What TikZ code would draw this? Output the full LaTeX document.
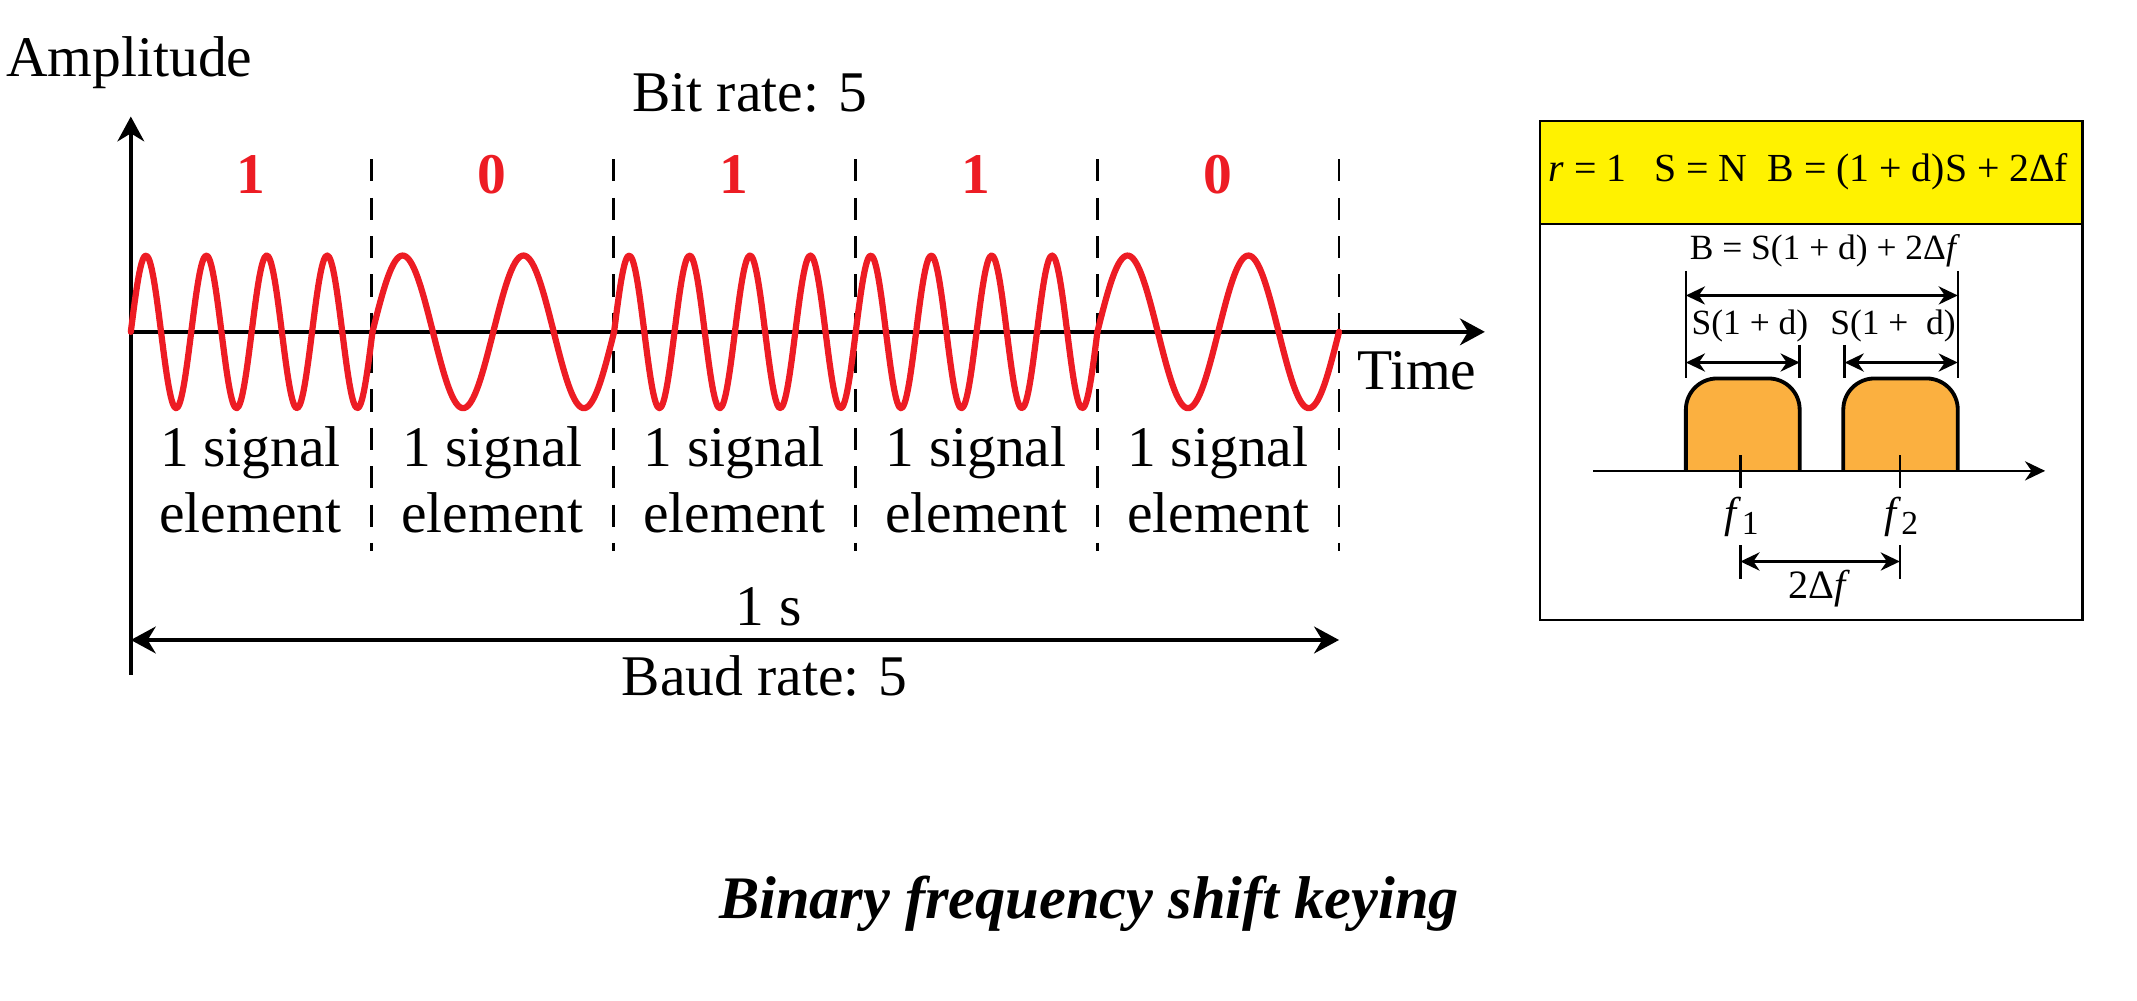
\documentclass[tikz,border=0pt]{standalone}
\usepackage{fontspec}
\setmainfont{Liberation Serif}
\usetikzlibrary{arrows.meta}
\definecolor{wavered}{RGB}{237,28,36}
\definecolor{bumporange}{RGB}{251,176,64}
\definecolor{hdryellow}{RGB}{255,242,0}
\begin{document}
\begin{tikzpicture}[x=0.01cm,y=-0.01cm,
  lbl/.style={font=\fontsize{12}{14}\selectfont, inner sep=0pt, anchor=base},
  bitlbl/.style={font=\fontsize{12}{14}\selectfont\bfseries, text=wavered, inner sep=0pt, anchor=base},
  axisline/.style={line width=0.7pt, -{Stealth[length=5.2pt,width=5.6pt]}},
  divider/.style={line width=0.6pt, dash pattern=on 4.6pt off 3.4pt},
  wave/.style={line width=1.3pt, draw=wavered, line join=round, line cap=round},
  dimbig/.style={line width=0.75pt, {Stealth[length=5.2pt,width=5.6pt]}-{Stealth[length=5.2pt,width=5.6pt]}},
  dimsm/.style={line width=0.5pt, {Stealth[length=4pt,width=3.8pt]}-{Stealth[length=4pt,width=3.8pt]}},
  thin/.style={line width=0.5pt},
  boxline/.style={line width=0.45pt},
  bump/.style={line width=0.8pt, fill=bumporange, rounded corners=6.5pt},
  boxlbl/.style={font=\fontsize{7.4}{9}\selectfont, inner sep=0pt},
]
\useasboundingbox (0,0) rectangle (1568,734);

% ---------- main plot ----------
\coordinate (O) at (96,243.5);
\coordinate (Ytop) at (96,85.5);
\coordinate (Ybot) at (96,495);
\coordinate (Xend) at (1089.5,243.5);
\draw[axisline] (Ybot) -- (Ytop);
\draw[axisline] (O) -- (Xend);

\node[lbl, anchor=base west] (amp) at (4,56.5) {Amplitude};
\node[lbl] (bitrate) at (550,82) {Bit rate: 5};
\node[lbl, anchor=base west] (time) at (995,286) {Time};

% dividers
\foreach \k/\xx in {1/272.5,2/450,3/627.5,4/805,5/982.5}{
  \coordinate (dT\k) at (\xx,117);
  \coordinate (dB\k) at (\xx,404);
  \draw[divider] (dT\k) -- (dB\k);
}

% bits
\foreach \k/\b in {1/1,2/0,3/1,4/1,5/0}{
  \pgfmathsetmacro\xc{95+177.5*(\k-0.5)}
  \node[bitlbl] (bit\k) at (\xc,142) {\b};
}

% wave
\foreach \i/\c in {0/4,1/2,2/4,3/4,4/2}{
  \pgfmathsetmacro\xa{96+177.3*\i}
  \pgfmathsetmacro\xb{\xa+177.3}
  \pgfmathsetmacro\kk{360*\c/177.3}
  \draw[wave] plot[domain=\xa:\xb, samples=140, smooth] (\x, {243.5 - 56*sin(\kk*(\x-\xa))});
}

% signal element labels
\foreach \k in {1,...,5}{
  \pgfmathsetmacro\xc{95+177.5*(\k-0.5)}
  \node[lbl] (sig\k) at (\xc,342.6) {1 signal};
  \node[lbl] (elem\k) at (\xc,391) {element};
}

\coordinate (sL) at (96,469.6);
\coordinate (sR) at (982.5,469.6);
\draw[dimbig] (sL) -- (sR);
\node[lbl] (ones) at (564,458.6) {1 s};
\node[lbl] (baud) at (561,510) {Baud rate: 5};

\node[font=\fontsize{12.6}{15}\selectfont\bfseries\itshape, inner sep=0pt, anchor=base] (caption) at (799,673.6) {Binary frequency shift keying};

% ---------- right box ----------
\draw[boxline, fill=hdryellow] (1130,89) rectangle (1528,164.5);
\draw[boxline] (1130,164.5) rectangle (1528,455);
\node[font=\fontsize{8.3}{10}\selectfont, inner sep=0pt] (hdr) at (1327,126)
  {\textit{r} = 1\hspace{0.7em}S = N\hspace{0.5em}B = (1 + d)S + 2Δf};

\node[boxlbl] (blbl) at (1339,184) {B = S(1 + d) + 2Δ\textit{f}};

% bumps
\draw[bump] (1237,345.5) -- (1237,277.7) -- (1320.5,277.7) -- (1320.5,345.5);
\draw[bump] (1352.5,345.5) -- (1352.5,277.7) -- (1436.5,277.7) -- (1436.5,345.5);

% frequency axis
\coordinate (fa) at (1169,345.5);
\coordinate (fb) at (1500.6,345.5);
\draw[thin, -{Stealth[length=4.2pt,width=4pt]}] (fa) -- (fb);

% dimension ticks
\coordinate (tL1) at (1237,198.7); \coordinate (tL2) at (1237,277.7);
\coordinate (tR1) at (1436.5,198.7); \coordinate (tR2) at (1436.5,277.7);
\coordinate (tM1a) at (1320.5,253); \coordinate (tM1b) at (1320.5,277.7);
\coordinate (tM2a) at (1353.5,253); \coordinate (tM2b) at (1353.5,277.7);
\draw[thin] (tL1) -- (tL2);
\draw[thin] (tR1) -- (tR2);
\draw[thin] (tM1a) -- (tM1b);
\draw[thin] (tM2a) -- (tM2b);

\coordinate (bwL) at (1237,216.8); \coordinate (bwR) at (1436.5,216.8);
\draw[dimsm] (bwL) -- (bwR);
\coordinate (s1L) at (1237,266); \coordinate (s1R) at (1320.5,266);
\coordinate (s2L) at (1353.5,266); \coordinate (s2R) at (1436.5,266);
\draw[dimsm] (s1L) -- (s1R);
\draw[dimsm] (s2L) -- (s2R);

\node[boxlbl] (sd1) at (1284,239.5) {S(1 + d)};
\node[boxlbl] (sd2) at (1389,239.5) {S(1 +\ \ d)};

% f ticks
\coordinate (f1a) at (1277,334); \coordinate (f1b) at (1277,358);
\coordinate (f2a) at (1394,334); \coordinate (f2b) at (1394,358);
\draw[thin] (f1a) -- (f1b);
\draw[thin] (f2a) -- (f2b);
\node[font=\fontsize{9}{10}\selectfont, inner sep=0pt] (f1) at (1278,379.5) {\textit{f}\raisebox{-0.35ex}{\fontsize{7}{8}\selectfont 1}};
\node[font=\fontsize{9}{10}\selectfont, inner sep=0pt] (f2) at (1395,379.5) {\textit{f}\raisebox{-0.35ex}{\fontsize{7}{8}\selectfont 2}};

\coordinate (dfa1) at (1277,400); \coordinate (dfa2) at (1277,425);
\coordinate (dfb1) at (1394,400); \coordinate (dfb2) at (1394,425);
\draw[thin] (dfa1) -- (dfa2);
\draw[thin] (dfb1) -- (dfb2);
\coordinate (dfL) at (1277,412); \coordinate (dfR) at (1394,412);
\draw[dimsm] (dfL) -- (dfR);
\node[font=\fontsize{8.4}{10}\selectfont, inner sep=0pt] (df) at (1335,432) {2Δ\textit{f}};
\end{tikzpicture}
\end{document}
